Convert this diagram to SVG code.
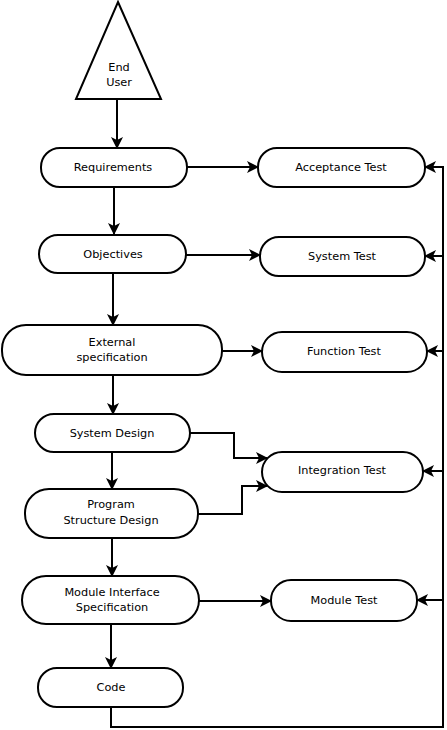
<svg xmlns="http://www.w3.org/2000/svg" width="447" height="730" viewBox="0 0 447 730">
<style>
.n{fill:#fff;stroke:#000;stroke-width:2}
.t{font-family:"DejaVu Sans",sans-serif;font-size:11.3px;fill:#000;text-anchor:middle}
.c{fill:none;stroke:#000;stroke-width:2}
</style>
<defs>
<marker id="a" viewBox="0 0 12 12" refX="11" refY="6" markerWidth="12" markerHeight="12" markerUnits="userSpaceOnUse" orient="auto">
<path d="M0,0 L12,6 L0,12 L3,6 z" fill="#000"/>
</marker>
</defs>
<rect width="447" height="730" fill="#fff"/>
<g id="connectors">
<path class="c" d="M117,100 V148" marker-end="url(#a)"/>
<path class="c" d="M114,187 V234" marker-end="url(#a)"/>
<path class="c" d="M113,273 V325" marker-end="url(#a)"/>
<path class="c" d="M113,375 V414" marker-end="url(#a)"/>
<path class="c" d="M112,452 V489" marker-end="url(#a)"/>
<path class="c" d="M112,538 V576" marker-end="url(#a)"/>
<path class="c" d="M111,624 V668" marker-end="url(#a)"/>
<path class="c" d="M187,167 H258" marker-end="url(#a)"/>
<path class="c" d="M186,255 H260" marker-end="url(#a)"/>
<path class="c" d="M222,351 H262" marker-end="url(#a)"/>
<path class="c" d="M190,433 H234 V458 H267" marker-end="url(#a)"/>
<path class="c" d="M198,514 H242 V486 H267" marker-end="url(#a)"/>
<path class="c" d="M199,601 H271" marker-end="url(#a)"/>
<path class="c" d="M111,707 V727 H443 V167 H425" marker-end="url(#a)"/>
<path class="c" d="M443,256 H425" marker-end="url(#a)"/>
<path class="c" d="M443,351 H427" marker-end="url(#a)"/>
<path class="c" d="M443,471 H423" marker-end="url(#a)"/>
<path class="c" d="M443,600 H417" marker-end="url(#a)"/>
</g>
<g id="end-user">
<path class="n" d="M118,2 L161,99 L76,99 Z"/>
<text class="t" x="119" y="71">End</text>
<text class="t" x="119" y="86">User</text>
</g>
<g id="requirements">
<rect class="n" x="41" y="148" width="146" height="39" rx="19" ry="19"/>
<text class="t" x="113" y="171">Requirements</text>
</g>
<g id="objectives">
<rect class="n" x="39" y="235" width="147" height="38" rx="19" ry="19"/>
<text class="t" x="113" y="258">Objectives</text>
</g>
<g id="external-specification">
<rect class="n" x="2" y="325" width="220" height="50" rx="24" ry="24"/>
<text class="t" x="112" y="346">External</text>
<text class="t" x="112" y="361">specification</text>
</g>
<g id="system-design">
<rect class="n" x="35" y="414" width="155" height="38" rx="19" ry="19"/>
<text class="t" x="112" y="437">System Design</text>
</g>
<g id="program-structure-design">
<rect class="n" x="25" y="489" width="173" height="49" rx="24" ry="24"/>
<text class="t" x="111" y="508">Program</text>
<text class="t" x="111" y="524">Structure Design</text>
</g>
<g id="module-interface-specification">
<rect class="n" x="22" y="576" width="177" height="48" rx="24" ry="24"/>
<text class="t" x="112" y="596">Module Interface</text>
<text class="t" x="112" y="611">Specification</text>
</g>
<g id="code">
<rect class="n" x="38" y="668" width="145" height="39" rx="19" ry="19"/>
<text class="t" x="111" y="691">Code</text>
</g>
<g id="acceptance-test">
<rect class="n" x="258" y="148" width="167" height="39" rx="19" ry="19"/>
<text class="t" x="341" y="171">Acceptance Test</text>
</g>
<g id="system-test">
<rect class="n" x="260" y="237" width="165" height="39" rx="19" ry="19"/>
<text class="t" x="342" y="260">System Test</text>
</g>
<g id="function-test">
<rect class="n" x="262" y="332" width="165" height="40" rx="20" ry="20"/>
<text class="t" x="344" y="355">Function Test</text>
</g>
<g id="integration-test">
<rect class="n" x="262" y="452" width="161" height="40" rx="20" ry="20"/>
<text class="t" x="342" y="474">Integration Test</text>
</g>
<g id="module-test">
<rect class="n" x="271" y="580" width="146" height="41" rx="20" ry="20"/>
<text class="t" x="344" y="604">Module Test</text>
</g>
</svg>
